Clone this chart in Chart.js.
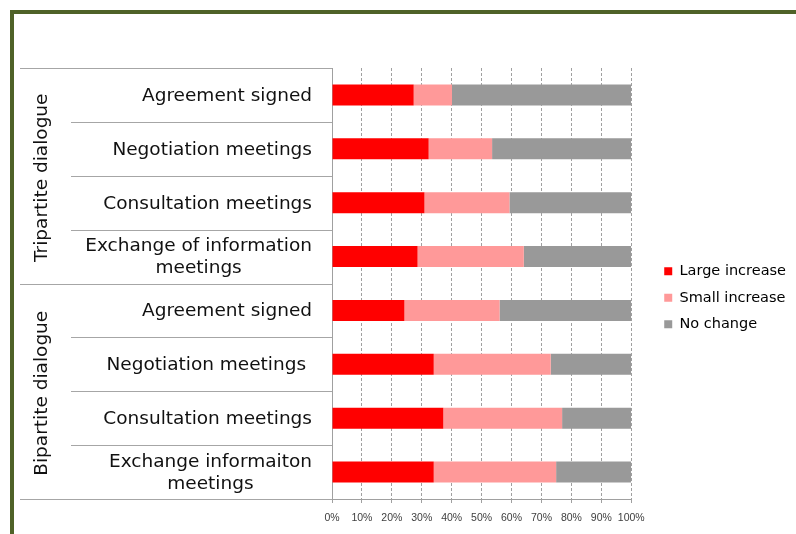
<!DOCTYPE html>
<html><head><meta charset="utf-8">
<script src="https://cdn.jsdelivr.net/npm/chart.js@4/dist/chart.umd.min.js"></script>
<style>
html,body{margin:0;padding:0;background:#fff;}
#wrap{position:relative;width:796px;height:534px;overflow:hidden;background:#fff;}
.frameTop{position:absolute;left:10px;top:10px;width:786px;height:4px;background:#4f6228;}
.frameLeft{position:absolute;left:10px;top:10px;width:4px;height:524px;background:#4f6228;}
canvas{position:absolute;left:0;top:0;}
</style></head><body>
<div id="wrap"><div class="frameTop"></div><div class="frameLeft"></div><canvas id="c" width="796" height="534"></canvas></div>
<script>
const groups = ['Tripartite dialogue', 'Bipartite dialogue'];
const groupSizes = [4, 4];
const categories = [
  'Agreement signed',
  'Negotiation meetings',
  'Consultation meetings',
  ['Exchange of information', 'meetings'],
  'Agreement signed',
  'Negotiation meetings ',
  'Consultation meetings',
  ['Exchange informaiton', 'meetings']
];
const seriesNames = ['Large increase', 'Small increase', 'No change'];
const largeIncrease = [27.3, 32.3, 30.9, 28.6, 24.2, 34.0, 37.2, 34.0];
const smallIncrease = [12.8, 21.2, 28.4, 35.5, 31.8, 39.1, 39.7, 40.9];
const noChange      = [59.9, 46.5, 40.7, 35.9, 44.0, 26.9, 23.1, 25.1];
const xTickLabels = ['0%','10%','20%','30%','40%','50%','60%','70%','80%','90%','100%'];

const LABEL_FONT = '"DejaVu Sans", sans-serif';

const tablePlugin = {
  id: 'tableLabels',
  afterDraw(chart) {
    const ctx = chart.ctx;
    const a = chart.chartArea;
    const y = chart.scales.y;
    const n = chart.data.labels.length;
    const step = y.getPixelForValue(1) - y.getPixelForValue(0);
    const bound = i => y.getPixelForValue(i) - step / 2;
    const groupEdges = [0];
    let acc = 0;
    groupSizes.forEach(s => { acc += s; groupEdges.push(acc); });
    ctx.save();
    ctx.strokeStyle = '#a6a6a6';
    ctx.lineWidth = 1;
    for (let i = 0; i <= n; i++) {
      const yy = Math.round(bound(i)) + 0.5;
      const x0 = groupEdges.includes(i) ? 20 : 71;
      ctx.beginPath();
      ctx.moveTo(x0, yy);
      ctx.lineTo(a.left, yy);
      ctx.stroke();
    }
    ctx.fillStyle = '#111';
    ctx.font = '18.5px ' + LABEL_FONT;
    ctx.textBaseline = 'middle';
    ctx.textAlign = 'center';
    chart.data.labels.forEach((lab, i) => {
      const lines = Array.isArray(lab) ? lab : [lab];
      const w = Math.max(...lines.map(l => ctx.measureText(l).width));
      const cx = a.left - 20 - w / 2;
      const cy = y.getPixelForValue(i) + 1;
      lines.forEach((l, k) => ctx.fillText(l, cx, cy + (k - (lines.length - 1) / 2) * 22));
    });
    groups.forEach((g, gi) => {
      const top = bound(groupEdges[gi]);
      const bot = bound(groupEdges[gi + 1]);
      ctx.save();
      ctx.translate(42, (top + bot) / 2 + 2);
      ctx.rotate(-Math.PI / 2);
      ctx.fillText(g, 0, 0);
      ctx.restore();
    });
    ctx.restore();
  }
};

new Chart(document.getElementById('c'), {
  type: 'bar',
  data: {
    labels: categories,
    datasets: [
      { label: seriesNames[0], data: largeIncrease, backgroundColor: '#ff0000' },
      { label: seriesNames[1], data: smallIncrease, backgroundColor: '#ff9999' },
      { label: seriesNames[2], data: noChange, backgroundColor: '#999999' }
    ]
  },
  options: {
    indexAxis: 'y',
    responsive: false,
    animation: false,
    devicePixelRatio: 1,
    datasets: { bar: { barPercentage: 0.39, categoryPercentage: 1, borderWidth: 0 } },
    layout: { padding: { left: 332, top: 62, right: 0, bottom: 0.4 } },
    scales: {
      x: {
        stacked: true, min: 0, max: 100,
        ticks: {
          stepSize: 10,
          padding: 9,
          autoSkip: false,
          maxRotation: 0,
          minRotation: 0,
          color: '#404040',
          font: { family: '"Liberation Sans", sans-serif', size: 10.5 },
          callback: (v, i) => xTickLabels[i]
        },
        grid: { color: '#a0a0a0', tickLength: 4, tickColor: '#a0a0a0', tickBorderDash: [] },
        border: { display: true, color: '#a0a0a0', dash: [3, 2] }
      },
      x2: {
        type: 'linear', position: 'top', display: true,
        ticks: { display: false },
        grid: { display: false, drawTicks: false },
        border: { display: false },
        afterFit(s) { s.height = 6; }
      },
      y: {
        stacked: true,
        ticks: { display: false },
        grid: { display: false, drawTicks: false },
        border: { display: true, color: '#a0a0a0' }
      },
      y2: {
        type: 'linear', position: 'right', display: true,
        ticks: { display: false },
        grid: { display: false, drawTicks: false },
        border: { display: false },
        afterFit(s) { s.width = 21; }
      }
    },
    plugins: {
      legend: {
        position: 'right',
        align: 'center',
        maxWidth: 170,
        labels: {
          boxWidth: 8, boxHeight: 8, padding: 12, color: '#000',
          font: { family: LABEL_FONT, size: 14.5 }
        }
      },
      tooltip: { enabled: false }
    }
  },
  plugins: [tablePlugin]
});
</script>
</body></html>
